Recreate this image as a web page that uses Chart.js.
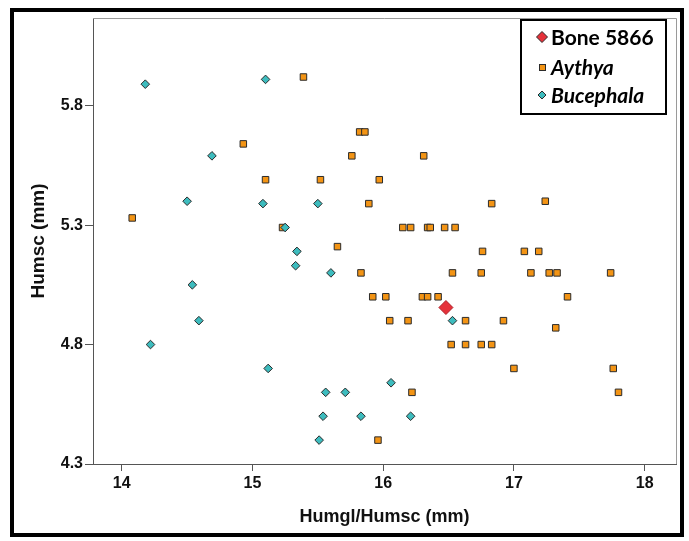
<!DOCTYPE html>
<html>
<head>
<meta charset="utf-8">
<script src="https://cdn.jsdelivr.net/npm/chart.js@4"></script>
<style>
  html, body { margin: 0; padding: 0; background: #fff; }
</style>
</head>
<body>
<canvas id="chart" width="689" height="541"></canvas>
<script>
// Data.
const xTicks = [14, 15, 16, 17, 18];
const yTicks = [4.3, 4.8, 5.3, 5.8];

const boneX = [16.48];
const boneY = [4.955];

const aythyaX = [14.08, 14.93, 15.10, 15.39, 15.82, 15.86, 15.76, 16.31, 15.52, 15.97,
  15.89, 16.83, 17.24, 16.76, 17.08, 17.19, 15.23, 16.15, 16.21, 16.34,
  16.36, 16.47, 16.55, 15.65, 15.83, 16.53, 16.75, 17.13, 17.27, 17.33,
  17.74, 15.92, 16.02, 16.30, 16.34, 16.42, 17.41, 16.05, 16.19, 16.63,
  16.92, 17.32, 16.52, 16.63, 16.75, 16.83, 17.00, 17.76, 17.80, 16.22, 15.96];
const aythyaY = [5.33, 5.64, 5.49, 5.92, 5.69, 5.69, 5.59, 5.59, 5.49, 5.49,
  5.39, 5.39, 5.40, 5.19, 5.19, 5.19, 5.29, 5.29, 5.29, 5.29,
  5.29, 5.29, 5.29, 5.21, 5.10, 5.10, 5.10, 5.10, 5.10, 5.10,
  5.10, 5.00, 5.00, 5.00, 5.00, 5.00, 5.00, 4.90, 4.90, 4.90,
  4.90, 4.87, 4.80, 4.80, 4.80, 4.80, 4.70, 4.70, 4.60, 4.60, 4.40];

const bucephalaX = [14.18, 15.10, 14.69, 14.50, 15.08, 15.50, 15.25, 14.54, 14.59, 14.22,
  15.34, 15.33, 15.60, 16.53, 15.12, 15.56, 15.71, 16.06, 15.54, 15.83, 16.21, 15.51];
const bucephalaY = [5.89, 5.91, 5.59, 5.40, 5.39, 5.39, 5.29, 5.05, 4.90, 4.80,
  5.19, 5.13, 5.10, 4.90, 4.70, 4.60, 4.60, 4.64, 4.50, 4.50, 4.50, 4.40];

const toPoints = (xs, ys) => xs.map((x, i) => ({ x: x, y: ys[i] }));

const RED = "#E5313A";
const ORANGE = "#F39414";
const TEAL = "#3DBCBE";
const EDGE = "#2b2b2b";

function diamond(ctx, x, y, r, fill) {
  ctx.beginPath();
  ctx.moveTo(x, y - r);
  ctx.lineTo(x + r, y);
  ctx.lineTo(x, y + r);
  ctx.lineTo(x - r, y);
  ctx.closePath();
  ctx.fillStyle = fill;
  ctx.fill();
  ctx.strokeStyle = EDGE;
  ctx.lineWidth = 1;
  ctx.stroke();
}

const decorPlugin = {
  id: "decor",
  beforeDraw(chart) {
    const ctx = chart.ctx;
    ctx.save();
    ctx.fillStyle = "#fff";
    ctx.fillRect(0, 0, chart.width, chart.height);
    ctx.restore();
  },
  afterDraw(chart) {
    const ctx = chart.ctx;
    const a = chart.chartArea;
    ctx.save();
    // top and right edge of the plot box
    ctx.strokeStyle = "#9a9a9a";
    ctx.lineWidth = 1;
    ctx.beginPath();
    ctx.moveTo(a.left, a.top + 0.5);
    ctx.lineTo(a.right + 0.5, a.top + 0.5);
    ctx.lineTo(a.right + 0.5, a.bottom);
    ctx.stroke();

    // legend box
    ctx.fillStyle = "#fff";
    ctx.fillRect(521, 20, 145, 94);
    ctx.strokeStyle = "#000";
    ctx.lineWidth = 2;
    ctx.strokeRect(521, 20, 145, 94);

    const items = [
      { label: chart.data.datasets[0].label, y: 37, italic: false },
      { label: chart.data.datasets[1].label, y: 67, italic: true },
      { label: chart.data.datasets[2].label, y: 95, italic: true },
    ];
    diamond(ctx, 542, 37, 5.5, RED);
    ctx.fillStyle = ORANGE;
    ctx.fillRect(539.5, 64.5, 6, 6);
    ctx.strokeStyle = EDGE;
    ctx.lineWidth = 1;
    ctx.strokeRect(539.5, 64.5, 6, 6);
    diamond(ctx, 542, 95, 4, TEAL);

    ctx.fillStyle = "#000";
    ctx.textBaseline = "middle";
    items.forEach((it) => {
      ctx.font = (it.italic ? "italic " : "") + "bold 21px Lato";
      ctx.fillText(it.label, 551, it.y + 1);
    });

    // outer black frame
    ctx.strokeStyle = "#000";
    ctx.lineWidth = 4;
    ctx.strokeRect(12, 10, 670, 525);
    ctx.restore();
  },
};

const axisFont = { family: "Liberation Sans, Arial, sans-serif", size: 16, weight: "bold" };
const titleFont = { family: "Liberation Sans, Arial, sans-serif", size: 18, weight: "bold" };

new Chart(document.getElementById("chart"), {
  type: "scatter",
  data: {
    datasets: [
      {
        label: "Bone 5866",
        data: toPoints(boneX, boneY),
        pointStyle: "rectRot",
        pointRadius: 7,
        backgroundColor: RED,
        borderColor: "#b02028",
        borderWidth: 1,
        order: 0,
      },
      {
        label: "Aythya",
        data: toPoints(aythyaX, aythyaY),
        pointStyle: "rect",
        pointRadius: 4.6,
        backgroundColor: ORANGE,
        borderColor: EDGE,
        borderWidth: 1,
        order: 2,
      },
      {
        label: "Bucephala",
        data: toPoints(bucephalaX, bucephalaY),
        pointStyle: "rectRot",
        pointRadius: 4.3,
        backgroundColor: TEAL,
        borderColor: EDGE,
        borderWidth: 1,
        order: 1,
      },
    ],
  },
  options: {
    responsive: false,
    animation: false,
    devicePixelRatio: 1,
    layout: { padding: { left: 0, top: 18, right: 13, bottom: 0 } },
    plugins: {
      legend: { display: false },
      tooltip: { enabled: false },
    },
    scales: {
      x: {
        type: "linear",
        min: 13.78,
        max: 18.24,
        afterBuildTicks: (scale) => { scale.ticks = xTicks.map((v) => ({ value: v })); },
        afterFit: (scale) => { scale.height = 77; },
        grid: { drawOnChartArea: false, tickLength: 7, color: "#555" },
        border: { color: "#555" },
        ticks: { font: axisFont, color: "#111", padding: 3, maxRotation: 0 },
        title: { display: true, text: "Humgl/Humsc (mm)", font: titleFont, color: "#111", padding: { top: 0, bottom: 13 } },
      },
      y: {
        type: "linear",
        min: 4.3,
        max: 6.167,
        afterBuildTicks: (scale) => { scale.ticks = yTicks.map((v) => ({ value: v })); },
        afterFit: (scale) => { scale.width = 93; },
        grid: { drawOnChartArea: false, tickLength: 8, color: "#555" },
        border: { color: "#555" },
        ticks: { font: axisFont, color: "#111", padding: 2, callback: (v) => Number(v).toFixed(1) },
        title: { display: true, text: "Humsc (mm)", font: { ...titleFont, size: 19 }, color: "#111", padding: { top: 27, bottom: 0 } },
      },
    },
  },
  plugins: [decorPlugin],
});
</script>
</body>
</html>
